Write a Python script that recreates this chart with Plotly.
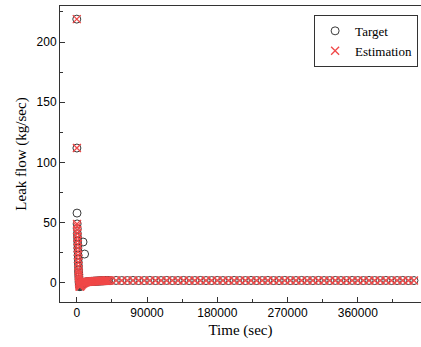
import plotly.graph_objects as go

# ---- data ----
time_a = [0, 150, 300, 450, 600, 750, 900, 1050, 1200, 1350, 1500, 1650, 1800,
          1950, 2100, 2250, 2400, 2550, 2700, 2850, 3000, 3150, 3300, 3450, 3600]
target_a = [219, 112, 58, 49, 45, 41, 38, 35, 32, 29, 26, 23, 20,
            17, 14, 11, 9, 7, 5, 3, 1, 0, -1, -2, -3]
estim_a = [219, 112, 49, 47, 44, 41, 38, 35, 32, 29, 26, 23, 20,
           17, 14, 11, 9, 7, 5, 3, 1, 0, -1, -2, -3]

time_b = list(range(4000, 41000, 1000))
estim_b = [-3.0, -2.5, -1.8, -1.0, -0.4, 0.0, 0.3, 0.6, 0.8, 0.9,
           1.0, 1.1, 1.1, 1.2, 1.2, 1.3, 1.3, 1.4, 1.4, 1.5,
           1.5, 1.5, 1.6, 1.6, 1.6, 1.7, 1.7, 1.7, 1.8, 1.8,
           1.8, 1.9, 1.9, 1.9, 2.0, 2.0, 2.0]
target_b = [-3.0, -2.5, -1.8, -1.0, 34, -0.2, 24, 0.6, 0.8, 0.9,
            1.0, 1.1, 1.1, 1.2, 1.2, 1.3, 1.3, 1.4, 1.4, 1.5,
            1.5, 1.5, 1.6, 1.6, 1.6, 1.7, 1.7, 1.7, 1.8, 1.8,
            1.8, 1.9, 1.9, 1.9, 2.0, 2.0, 2.0]

time_c = list(range(43200, 432001, 7200))
target_c = [2.0, 2.1, 2.0, 2.0, 2.1, 2.0, 2.0, 2.1, 2.0, 2.0, 2.1,
            2.0, 2.0, 2.1, 2.0, 2.0, 2.1, 2.0, 2.0, 2.1, 2.0, 2.0,
            2.1, 2.0, 2.0, 2.1, 2.0, 2.0, 2.1, 2.0, 2.0, 2.1, 2.0,
            2.0, 2.1, 2.0, 2.0, 2.1, 2.0, 2.0, 2.1, 2.0, 2.0, 2.1,
            2.0, 2.0, 2.1, 2.0, 2.0, 2.1, 2.0, 2.0, 2.1, 2.0, 2.0]
estim_c = [2.1, 2.0, 2.1, 2.1, 2.0, 2.1, 2.1, 2.0, 2.1, 2.1, 2.0,
           2.1, 2.1, 2.0, 2.1, 2.1, 2.0, 2.1, 2.1, 2.0, 2.1, 2.1,
           2.0, 2.1, 2.1, 2.0, 2.1, 2.1, 2.0, 2.1, 2.1, 2.0, 2.1,
           2.1, 2.0, 2.1, 2.1, 2.0, 2.1, 2.1, 2.0, 2.1, 2.1, 2.0,
           2.1, 2.1, 2.0, 2.1, 2.1, 2.0, 2.1, 2.1, 2.0, 2.1, 2.1]

x_ticks = [0, 90000, 180000, 270000, 360000]
y_ticks = [0, 50, 100, 150, 200]

time_all = time_a + time_b + time_c
target_all = target_a + target_b + target_c
estim_all = estim_a + estim_b + estim_c

RED = "#f04848"
GRAY = "#3a3a3a"
SERIF = "Liberation Serif, Times New Roman, serif"
SANS = "Liberation Sans, Arial, sans-serif"

fig = go.Figure()
fig.add_trace(go.Scatter(
    x=time_all, y=target_all, mode="markers", name="Target",
    marker=dict(symbol="circle-open", size=8, color=GRAY, line=dict(width=1, color=GRAY)),
))
fig.add_trace(go.Scatter(
    x=time_all, y=estim_all, mode="markers", name="Estimation",
    marker=dict(symbol="x-thin-open", size=8, color=RED, line=dict(width=1.3, color=RED)),
))

fig.update_layout(
    width=421, height=347,
    margin=dict(l=60, r=0, t=6, b=45),
    plot_bgcolor="white", paper_bgcolor="white",
    showlegend=True,
    legend=dict(
        x=0.992, y=0.970, xanchor="right", yanchor="top",
        bordercolor="#333", borderwidth=1, bgcolor="white",
        font=dict(family=SERIF, size=13, color="black"),
        itemwidth=30, tracegroupgap=0,
    ),
    xaxis=dict(
        range=[-21500, 441000],
        tickmode="array", tickvals=x_ticks, ticktext=[str(v) for v in x_ticks],
        ticks="inside", ticklen=5, tickwidth=1, tickcolor="#333",
        minor=dict(tickvals=[45000, 135000, 225000, 315000, 405000], ticks="inside", ticklen=3, tickcolor="#333"),
        showline=True, linecolor="#333", linewidth=1, mirror=True,
        showgrid=False, zeroline=False,
        tickfont=dict(family=SANS, size=12, color="black"),
        title=dict(text="Time (sec)", font=dict(family=SERIF, size=15, color="black"), standoff=5),
    ),
    yaxis=dict(
        range=[-15.8, 229.9],
        tickmode="array", tickvals=y_ticks, ticktext=[str(v) for v in y_ticks],
        ticks="inside", ticklen=5, tickwidth=1, tickcolor="#333",
        minor=dict(tickvals=[25, 75, 125, 175, 225], ticks="inside", ticklen=3, tickcolor="#333"),
        showline=True, linecolor="#333", linewidth=1, mirror=False,
        showgrid=False, zeroline=False,
        tickfont=dict(family=SANS, size=12, color="black"),
        title=dict(text="Leak flow (kg/sec)", font=dict(family=SERIF, size=15, color="black"), standoff=6),
    ),
)

fig.write_html("out.html")
